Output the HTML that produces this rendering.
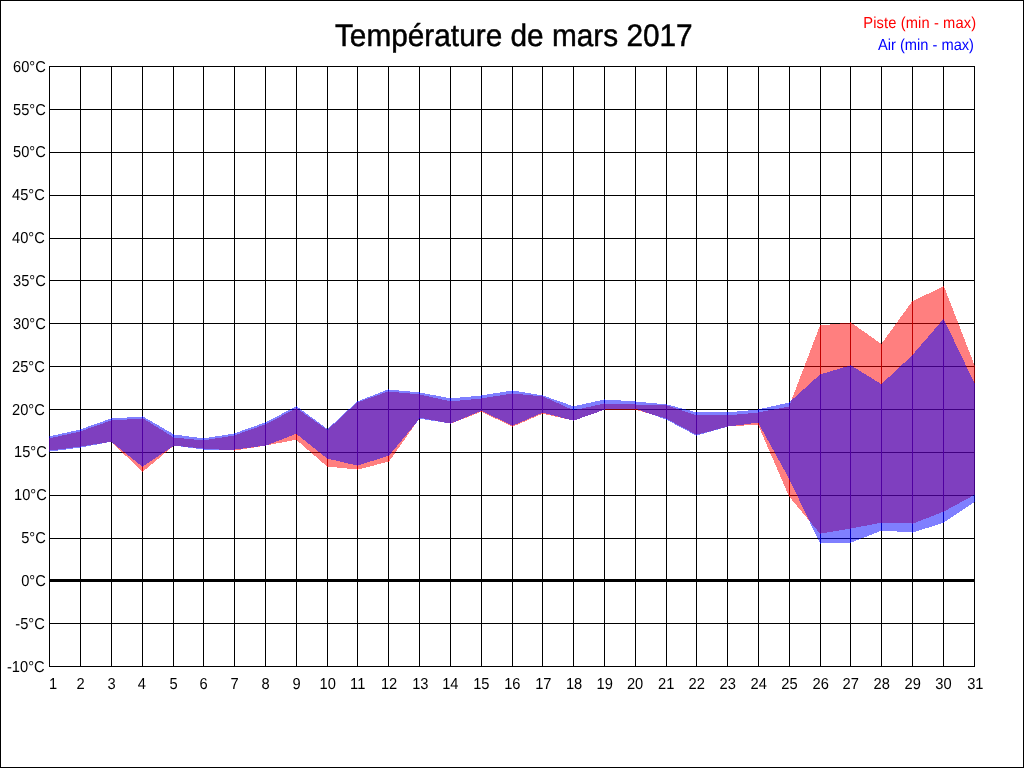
<!DOCTYPE html>
<html><head><meta charset="utf-8"><title>Température de mars 2017</title>
<style>
html,body{margin:0;padding:0;background:#fff;}
body{width:1024px;height:768px;overflow:hidden;}
svg{display:block;font-family:"Liberation Sans",sans-serif;}
</style></head><body>
<svg width="1024" height="768" viewBox="0 0 1024 768">
<rect x="0" y="0" width="1024" height="768" fill="#fff"/>
<g shape-rendering="crispEdges" fill="#000">
<rect x="0" y="0" width="1024" height="1"/><rect x="0" y="767" width="1024" height="1"/><rect x="0" y="0" width="1" height="768"/><rect x="1023" y="0" width="1" height="768"/>
<rect x="49" y="66" width="1" height="601"/><rect x="80" y="66" width="1" height="601"/><rect x="111" y="66" width="1" height="601"/><rect x="142" y="66" width="1" height="601"/><rect x="173" y="66" width="1" height="601"/><rect x="203" y="66" width="1" height="601"/><rect x="234" y="66" width="1" height="601"/><rect x="265" y="66" width="1" height="601"/><rect x="296" y="66" width="1" height="601"/><rect x="327" y="66" width="1" height="601"/><rect x="357" y="66" width="1" height="601"/><rect x="388" y="66" width="1" height="601"/><rect x="419" y="66" width="1" height="601"/><rect x="450" y="66" width="1" height="601"/><rect x="481" y="66" width="1" height="601"/><rect x="512" y="66" width="1" height="601"/><rect x="542" y="66" width="1" height="601"/><rect x="573" y="66" width="1" height="601"/><rect x="604" y="66" width="1" height="601"/><rect x="635" y="66" width="1" height="601"/><rect x="666" y="66" width="1" height="601"/><rect x="696" y="66" width="1" height="601"/><rect x="727" y="66" width="1" height="601"/><rect x="758" y="66" width="1" height="601"/><rect x="789" y="66" width="1" height="601"/><rect x="820" y="66" width="1" height="601"/><rect x="850" y="66" width="1" height="601"/><rect x="881" y="66" width="1" height="601"/><rect x="912" y="66" width="1" height="601"/><rect x="943" y="66" width="1" height="601"/><rect x="974" y="66" width="1" height="601"/>
<rect x="49" y="66" width="926" height="1"/><rect x="49" y="109" width="926" height="1"/><rect x="49" y="152" width="926" height="1"/><rect x="49" y="195" width="926" height="1"/><rect x="49" y="238" width="926" height="1"/><rect x="49" y="280" width="926" height="1"/><rect x="49" y="323" width="926" height="1"/><rect x="49" y="366" width="926" height="1"/><rect x="49" y="409" width="926" height="1"/><rect x="49" y="452" width="926" height="1"/><rect x="49" y="495" width="926" height="1"/><rect x="49" y="538" width="926" height="1"/><rect x="49" y="579" width="926" height="3"/><rect x="49" y="623" width="926" height="1"/><rect x="49" y="666" width="926" height="1"/>
</g>
<g shape-rendering="crispEdges">
<path fill="#ff0000" fill-opacity="0.5" d="M80 431h1v1h-1zM76 432h5v1h-5zM71 433h10v1h-10zM67 434h14v1h-14zM62 435h19v1h-19zM58 436h23v1h-23zM53 437h28v1h-28zM49 438h32v9h-32zM49 447h24v1h-24zM49 448h17v1h-17zM49 449h9v1h-9zM49 450h1v1h-1z"/>
<path fill="#0000ff" fill-opacity="0.5" d="M80 429h1v1h-1zM76 430h5v1h-5zM71 431h10v1h-10zM67 432h14v1h-14zM62 433h19v1h-19zM58 434h23v1h-23zM53 435h28v1h-28zM49 436h32v12h-32zM49 448h24v1h-24zM49 449h17v1h-17zM49 450h9v1h-9zM49 451h1v1h-1z"/>
<path fill="#ff0000" fill-opacity="0.5" d="M111 420h1v1h-1zM108 421h4v1h-4zM105 422h7v1h-7zM103 423h9v1h-9zM100 424h12v1h-12zM97 425h15v1h-15zM94 426h18v1h-18zM91 427h21v1h-21zM88 428h24v1h-24zM86 429h26v1h-26zM83 430h29v1h-29zM80 431h32v11h-32zM80 442h26v1h-26zM80 443h20v1h-20zM80 444h13v1h-13zM80 445h7v1h-7zM80 446h1v1h-1z"/>
<path fill="#0000ff" fill-opacity="0.5" d="M111 418h1v1h-1zM108 419h4v1h-4zM105 420h7v1h-7zM103 421h9v1h-9zM100 422h12v1h-12zM97 423h15v1h-15zM94 424h18v1h-18zM91 425h21v1h-21zM88 426h24v1h-24zM86 427h26v1h-26zM83 428h29v1h-29zM80 429h32v13h-32zM80 442h27v1h-27zM80 443h22v1h-22zM80 444h17v1h-17zM80 445h11v1h-11zM80 446h6v1h-6zM80 447h1v1h-1z"/>
<path fill="#ff0000" fill-opacity="0.5" d="M142 418h1v1h-1zM127 419h16v1h-16zM111 420h32v22h-32zM112 442h31v1h-31zM113 443h30v1h-30zM114 444h29v1h-29zM115 445h28v1h-28zM116 446h27v1h-27zM117 447h26v1h-26zM118 448h25v1h-25zM119 449h24v1h-24zM120 450h23v1h-23zM121 451h22v1h-22zM122 452h21v1h-21zM123 453h20v1h-20zM124 454h19v1h-19zM125 455h18v1h-18zM127 456h16v1h-16zM128 457h15v1h-15zM129 458h14v1h-14zM130 459h13v1h-13zM131 460h12v1h-12zM132 461h11v1h-11zM133 462h10v1h-10zM134 463h9v1h-9zM135 464h8v1h-8zM136 465h7v1h-7zM137 466h6v1h-6zM138 467h5v1h-5zM139 468h4v1h-4zM140 469h3v1h-3zM141 470h2v1h-2zM142 471h1v1h-1z"/>
<path fill="#0000ff" fill-opacity="0.5" d="M142 416h1v1h-1zM127 417h16v1h-16zM111 418h32v24h-32zM112 442h31v1h-31zM113 443h30v1h-30zM115 444h28v1h-28zM116 445h27v1h-27zM117 446h26v1h-26zM118 447h25v1h-25zM120 448h23v1h-23zM121 449h22v1h-22zM122 450h21v1h-21zM123 451h20v1h-20zM125 452h18v1h-18zM126 453h17v1h-17zM127 454h16v1h-16zM128 455h15v1h-15zM130 456h13v1h-13zM131 457h12v1h-12zM132 458h11v1h-11zM133 459h10v1h-10zM135 460h8v1h-8zM136 461h7v1h-7zM137 462h6v1h-6zM138 463h5v1h-5zM140 464h3v1h-3zM141 465h2v1h-2zM142 466h1v1h-1z"/>
<path fill="#ff0000" fill-opacity="0.5" d="M142 418h1v1h-1zM142 419h3v1h-3zM142 420h4v1h-4zM142 421h6v1h-6zM142 422h8v1h-8zM142 423h9v1h-9zM142 424h11v1h-11zM142 425h12v1h-12zM142 426h14v1h-14zM142 427h16v1h-16zM142 428h17v1h-17zM142 429h19v1h-19zM142 430h21v1h-21zM142 431h22v1h-22zM142 432h24v1h-24zM142 433h25v1h-25zM142 434h27v1h-27zM142 435h29v1h-29zM142 436h30v1h-30zM142 437h32v9h-32zM142 446h31v1h-31zM142 447h30v1h-30zM142 448h28v1h-28zM142 449h27v1h-27zM142 450h26v1h-26zM142 451h25v1h-25zM142 452h24v1h-24zM142 453h22v1h-22zM142 454h21v1h-21zM142 455h20v1h-20zM142 456h19v1h-19zM142 457h18v1h-18zM142 458h17v1h-17zM142 459h15v1h-15zM142 460h14v1h-14zM142 461h13v1h-13zM142 462h12v1h-12zM142 463h11v1h-11zM142 464h9v1h-9zM142 465h8v1h-8zM142 466h7v1h-7zM142 467h6v1h-6zM142 468h5v1h-5zM142 469h3v1h-3zM142 470h2v1h-2zM142 471h1v1h-1z"/>
<path fill="#0000ff" fill-opacity="0.5" d="M142 416h1v1h-1zM142 417h3v1h-3zM142 418h4v1h-4zM142 419h6v1h-6zM142 420h8v1h-8zM142 421h10v1h-10zM142 422h11v1h-11zM142 423h13v1h-13zM142 424h15v1h-15zM142 425h17v1h-17zM142 426h18v1h-18zM142 427h20v1h-20zM142 428h22v1h-22zM142 429h23v1h-23zM142 430h25v1h-25zM142 431h27v1h-27zM142 432h29v1h-29zM142 433h30v1h-30zM142 434h32v12h-32zM142 446h31v1h-31zM142 447h29v1h-29zM142 448h28v1h-28zM142 449h26v1h-26zM142 450h25v1h-25zM142 451h23v1h-23zM142 452h22v1h-22zM142 453h20v1h-20zM142 454h19v1h-19zM142 455h17v1h-17zM142 456h16v1h-16zM142 457h14v1h-14zM142 458h13v1h-13zM142 459h11v1h-11zM142 460h10v1h-10zM142 461h8v1h-8zM142 462h7v1h-7zM142 463h5v1h-5zM142 464h4v1h-4zM142 465h2v1h-2zM142 466h1v1h-1z"/>
<path fill="#ff0000" fill-opacity="0.5" d="M173 437h1v1h-1zM173 438h11v1h-11zM173 439h21v1h-21zM173 440h31v6h-31zM183 446h21v1h-21zM193 447h11v1h-11zM203 448h1v1h-1z"/>
<path fill="#0000ff" fill-opacity="0.5" d="M173 434h1v1h-1zM173 435h9v1h-9zM173 436h16v1h-16zM173 437h24v1h-24zM173 438h31v8h-31zM181 446h23v1h-23zM188 447h16v1h-16zM196 448h8v1h-8zM203 449h1v1h-1z"/>
<path fill="#ff0000" fill-opacity="0.5" d="M234 435h1v1h-1zM228 436h7v1h-7zM222 437h13v1h-13zM215 438h20v1h-20zM209 439h26v1h-26zM203 440h32v9h-32zM219 449h16v1h-16zM234 450h1v1h-1z"/>
<path fill="#0000ff" fill-opacity="0.5" d="M234 433h1v1h-1zM228 434h7v1h-7zM222 435h13v1h-13zM215 436h20v1h-20zM209 437h26v1h-26zM203 438h32v12h-32z"/>
<path fill="#ff0000" fill-opacity="0.5" d="M265 424h1v1h-1zM262 425h4v1h-4zM259 426h7v1h-7zM257 427h9v1h-9zM254 428h12v1h-12zM251 429h15v1h-15zM248 430h18v1h-18zM245 431h21v1h-21zM242 432h24v1h-24zM240 433h26v1h-26zM237 434h29v1h-29zM234 435h32v11h-32zM234 446h26v1h-26zM234 447h20v1h-20zM234 448h13v1h-13zM234 449h7v1h-7zM234 450h1v1h-1z"/>
<path fill="#0000ff" fill-opacity="0.5" d="M265 422h1v1h-1zM262 423h4v1h-4zM259 424h7v1h-7zM257 425h9v1h-9zM254 426h12v1h-12zM251 427h15v1h-15zM248 428h18v1h-18zM245 429h21v1h-21zM242 430h24v1h-24zM240 431h26v1h-26zM237 432h29v1h-29zM234 433h32v13h-32zM234 446h24v1h-24zM234 447h17v1h-17zM234 448h9v1h-9zM234 449h1v1h-1z"/>
<path fill="#ff0000" fill-opacity="0.5" d="M296 408h1v1h-1zM294 409h3v1h-3zM292 410h5v1h-5zM290 411h7v1h-7zM288 412h9v1h-9zM286 413h11v1h-11zM284 414h13v1h-13zM282 415h15v1h-15zM281 416h16v1h-16zM279 417h18v1h-18zM277 418h20v1h-20zM275 419h22v1h-22zM273 420h24v1h-24zM271 421h26v1h-26zM269 422h28v1h-28zM267 423h30v1h-30zM265 424h32v16h-32zM265 440h27v1h-27zM265 441h22v1h-22zM265 442h17v1h-17zM265 443h11v1h-11zM265 444h6v1h-6zM265 445h1v1h-1z"/>
<path fill="#0000ff" fill-opacity="0.5" d="M296 406h1v1h-1zM294 407h3v1h-3zM292 408h5v1h-5zM290 409h7v1h-7zM288 410h9v1h-9zM286 411h11v1h-11zM284 412h13v1h-13zM282 413h15v1h-15zM281 414h16v1h-16zM279 415h18v1h-18zM277 416h20v1h-20zM275 417h22v1h-22zM273 418h24v1h-24zM271 419h26v1h-26zM269 420h28v1h-28zM267 421h30v1h-30zM265 422h32v12h-32zM265 434h29v1h-29zM265 435h27v1h-27zM265 436h24v1h-24zM265 437h22v1h-22zM265 438h19v1h-19zM265 439h17v1h-17zM265 440h14v1h-14zM265 441h11v1h-11zM265 442h9v1h-9zM265 443h6v1h-6zM265 444h4v1h-4zM265 445h1v1h-1z"/>
<path fill="#ff0000" fill-opacity="0.5" d="M296 408h1v1h-1zM296 409h2v1h-2zM296 410h4v1h-4zM296 411h5v1h-5zM296 412h7v1h-7zM296 413h8v1h-8zM296 414h9v1h-9zM296 415h11v1h-11zM296 416h12v1h-12zM296 417h14v1h-14zM296 418h15v1h-15zM296 419h17v1h-17zM296 420h18v1h-18zM296 421h19v1h-19zM296 422h21v1h-21zM296 423h22v1h-22zM296 424h24v1h-24zM296 425h25v1h-25zM296 426h26v1h-26zM296 427h28v1h-28zM296 428h29v1h-29zM296 429h31v1h-31zM296 430h32v10h-32zM297 440h31v1h-31zM298 441h30v1h-30zM299 442h29v1h-29zM301 443h27v1h-27zM302 444h26v1h-26zM303 445h25v1h-25zM304 446h24v1h-24zM305 447h23v1h-23zM306 448h22v1h-22zM307 449h21v1h-21zM309 450h19v1h-19zM310 451h18v1h-18zM311 452h17v1h-17zM312 453h16v1h-16zM313 454h15v1h-15zM314 455h14v1h-14zM316 456h12v1h-12zM317 457h11v1h-11zM318 458h10v1h-10zM319 459h9v1h-9zM320 460h8v1h-8zM321 461h7v1h-7zM322 462h6v1h-6zM324 463h4v1h-4zM325 464h3v1h-3zM326 465h2v1h-2zM327 466h1v1h-1z"/>
<path fill="#0000ff" fill-opacity="0.5" d="M296 406h1v1h-1zM296 407h2v1h-2zM296 408h4v1h-4zM296 409h5v1h-5zM296 410h6v1h-6zM296 411h8v1h-8zM296 412h9v1h-9zM296 413h10v1h-10zM296 414h12v1h-12zM296 415h13v1h-13zM296 416h14v1h-14zM296 417h16v1h-16zM296 418h17v1h-17zM296 419h19v1h-19zM296 420h20v1h-20zM296 421h21v1h-21zM296 422h23v1h-23zM296 423h24v1h-24zM296 424h25v1h-25zM296 425h27v1h-27zM296 426h28v1h-28zM296 427h29v1h-29zM296 428h31v1h-31zM296 429h32v5h-32zM297 434h31v1h-31zM298 435h30v1h-30zM300 436h28v1h-28zM301 437h27v1h-27zM302 438h26v1h-26zM303 439h25v1h-25zM305 440h23v1h-23zM306 441h22v1h-22zM307 442h21v1h-21zM308 443h20v1h-20zM310 444h18v1h-18zM311 445h17v1h-17zM312 446h16v1h-16zM313 447h15v1h-15zM315 448h13v1h-13zM316 449h12v1h-12zM317 450h11v1h-11zM318 451h10v1h-10zM320 452h8v1h-8zM321 453h7v1h-7zM322 454h6v1h-6zM323 455h5v1h-5zM325 456h3v1h-3zM326 457h2v1h-2zM327 458h1v1h-1z"/>
<path fill="#ff0000" fill-opacity="0.5" d="M357 402h1v1h-1zM356 403h2v1h-2zM355 404h3v1h-3zM354 405h4v1h-4zM353 406h5v1h-5zM352 407h6v1h-6zM351 408h7v1h-7zM350 409h8v1h-8zM348 410h10v1h-10zM347 411h11v1h-11zM346 412h12v1h-12zM345 413h13v1h-13zM344 414h14v1h-14zM343 415h15v1h-15zM342 416h16v1h-16zM341 417h17v1h-17zM340 418h18v1h-18zM339 419h19v1h-19zM338 420h20v1h-20zM337 421h21v1h-21zM336 422h22v1h-22zM335 423h23v1h-23zM333 424h25v1h-25zM332 425h26v1h-26zM331 426h27v1h-27zM330 427h28v1h-28zM329 428h29v1h-29zM328 429h30v1h-30zM327 430h31v37h-31zM337 467h21v1h-21zM347 468h11v1h-11zM357 469h1v1h-1z"/>
<path fill="#0000ff" fill-opacity="0.5" d="M357 401h1v1h-1zM356 402h2v1h-2zM355 403h3v1h-3zM354 404h4v1h-4zM353 405h5v1h-5zM352 406h6v1h-6zM351 407h7v1h-7zM350 408h8v1h-8zM348 409h10v1h-10zM347 410h11v1h-11zM346 411h12v1h-12zM345 412h13v1h-13zM344 413h14v1h-14zM343 414h15v1h-15zM342 415h16v1h-16zM341 416h17v1h-17zM340 417h18v1h-18zM339 418h19v1h-19zM338 419h20v1h-20zM337 420h21v1h-21zM336 421h22v1h-22zM335 422h23v1h-23zM333 423h25v1h-25zM332 424h26v1h-26zM331 425h27v1h-27zM330 426h28v1h-28zM329 427h29v1h-29zM328 428h30v1h-30zM327 429h31v30h-31zM331 459h27v1h-27zM336 460h22v1h-22zM340 461h18v1h-18zM344 462h14v1h-14zM348 463h10v1h-10zM353 464h5v1h-5zM357 465h1v1h-1z"/>
<path fill="#ff0000" fill-opacity="0.5" d="M388 391h1v1h-1zM385 392h4v1h-4zM382 393h7v1h-7zM380 394h9v1h-9zM377 395h12v1h-12zM374 396h15v1h-15zM371 397h18v1h-18zM368 398h21v1h-21zM365 399h24v1h-24zM363 400h26v1h-26zM360 401h29v1h-29zM357 402h32v60h-32zM357 462h28v1h-28zM357 463h24v1h-24zM357 464h20v1h-20zM357 465h17v1h-17zM357 466h13v1h-13zM357 467h9v1h-9zM357 468h5v1h-5zM357 469h1v1h-1z"/>
<path fill="#0000ff" fill-opacity="0.5" d="M388 389h1v1h-1zM385 390h4v1h-4zM383 391h6v1h-6zM380 392h9v1h-9zM378 393h11v1h-11zM375 394h14v1h-14zM373 395h16v1h-16zM370 396h19v1h-19zM367 397h22v1h-22zM365 398h24v1h-24zM362 399h27v1h-27zM360 400h29v1h-29zM357 401h32v55h-32zM357 456h29v1h-29zM357 457h26v1h-26zM357 458h23v1h-23zM357 459h20v1h-20zM357 460h17v1h-17zM357 461h13v1h-13zM357 462h10v1h-10zM357 463h7v1h-7zM357 464h4v1h-4zM357 465h1v1h-1z"/>
<path fill="#ff0000" fill-opacity="0.5" d="M388 391h1v1h-1zM388 392h11v1h-11zM388 393h22v1h-22zM388 394h32v24h-32zM388 418h31v2h-31zM388 420h30v1h-30zM388 421h29v1h-29zM388 422h28v2h-28zM388 424h27v1h-27zM388 425h26v2h-26zM388 427h25v1h-25zM388 428h24v2h-24zM388 430h23v1h-23zM388 431h22v1h-22zM388 432h21v2h-21zM388 434h20v1h-20zM388 435h19v2h-19zM388 437h18v1h-18zM388 438h17v2h-17zM388 440h16v1h-16zM388 441h15v1h-15zM388 442h14v2h-14zM388 444h13v1h-13zM388 445h12v2h-12zM388 447h11v1h-11zM388 448h10v1h-10zM388 449h9v2h-9zM388 451h8v1h-8zM388 452h7v2h-7zM388 454h6v1h-6zM388 455h5v2h-5zM388 457h4v1h-4zM388 458h3v1h-3zM388 459h2v2h-2zM388 461h1v1h-1z"/>
<path fill="#0000ff" fill-opacity="0.5" d="M388 389h1v1h-1zM388 390h11v1h-11zM388 391h22v1h-22zM388 392h32v27h-32zM388 419h31v1h-31zM388 420h30v1h-30zM388 421h29v2h-29zM388 423h28v1h-28zM388 424h27v1h-27zM388 425h26v1h-26zM388 426h25v1h-25zM388 427h24v2h-24zM388 429h23v1h-23zM388 430h22v1h-22zM388 431h21v1h-21zM388 432h20v1h-20zM388 433h19v2h-19zM388 435h18v1h-18zM388 436h17v1h-17zM388 437h16v1h-16zM388 438h15v1h-15zM388 439h14v2h-14zM388 441h13v1h-13zM388 442h12v1h-12zM388 443h11v1h-11zM388 444h10v1h-10zM388 445h9v2h-9zM388 447h8v1h-8zM388 448h7v1h-7zM388 449h6v1h-6zM388 450h5v1h-5zM388 451h4v2h-4zM388 453h3v1h-3zM388 454h2v1h-2zM388 455h1v1h-1z"/>
<path fill="#ff0000" fill-opacity="0.5" d="M419 394h1v1h-1zM419 395h5v1h-5zM419 396h10v1h-10zM419 397h14v1h-14zM419 398h19v1h-19zM419 399h23v1h-23zM419 400h28v1h-28zM419 401h32v17h-32zM424 418h27v1h-27zM429 419h22v1h-22zM435 420h16v1h-16zM440 421h11v1h-11zM445 422h6v1h-6zM450 423h1v1h-1z"/>
<path fill="#0000ff" fill-opacity="0.5" d="M419 392h1v1h-1zM419 393h6v1h-6zM419 394h11v1h-11zM419 395h17v1h-17zM419 396h22v1h-22zM419 397h27v1h-27zM419 398h32v21h-32zM425 419h26v1h-26zM431 420h20v1h-20zM438 421h13v1h-13zM444 422h7v1h-7zM450 423h1v1h-1z"/>
<path fill="#ff0000" fill-opacity="0.5" d="M481 398h1v1h-1zM471 399h11v1h-11zM460 400h22v1h-22zM450 401h32v11h-32zM450 412h29v1h-29zM450 413h27v1h-27zM450 414h24v1h-24zM450 415h22v1h-22zM450 416h19v1h-19zM450 417h17v1h-17zM450 418h14v1h-14zM450 419h11v1h-11zM450 420h9v1h-9zM450 421h6v1h-6zM450 422h4v1h-4zM450 423h1v1h-1z"/>
<path fill="#0000ff" fill-opacity="0.5" d="M481 395h1v1h-1zM471 396h11v1h-11zM460 397h22v1h-22zM450 398h32v13h-32zM450 411h30v1h-30zM450 412h27v1h-27zM450 413h25v1h-25zM450 414h22v1h-22zM450 415h20v1h-20zM450 416h18v1h-18zM450 417h15v1h-15zM450 418h13v1h-13zM450 419h11v1h-11zM450 420h8v1h-8zM450 421h6v1h-6zM450 422h3v1h-3zM450 423h1v1h-1z"/>
<path fill="#ff0000" fill-opacity="0.5" d="M512 393h1v1h-1zM506 394h7v1h-7zM500 395h13v1h-13zM493 396h20v1h-20zM487 397h26v1h-26zM481 398h32v14h-32zM483 412h30v1h-30zM485 413h28v1h-28zM487 414h26v1h-26zM489 415h24v1h-24zM491 416h22v1h-22zM493 417h20v1h-20zM495 418h18v1h-18zM498 419h15v1h-15zM500 420h13v1h-13zM502 421h11v1h-11zM504 422h9v1h-9zM506 423h7v1h-7zM508 424h5v1h-5zM510 425h3v1h-3zM512 426h1v1h-1z"/>
<path fill="#0000ff" fill-opacity="0.5" d="M512 390h1v1h-1zM506 391h7v1h-7zM500 392h13v1h-13zM493 393h20v1h-20zM487 394h26v1h-26zM481 395h32v16h-32zM483 411h30v1h-30zM485 412h28v1h-28zM487 413h26v1h-26zM489 414h24v1h-24zM491 415h22v1h-22zM493 416h20v1h-20zM495 417h18v1h-18zM498 418h15v1h-15zM500 419h13v1h-13zM502 420h11v1h-11zM504 421h9v1h-9zM506 422h7v1h-7zM508 423h5v1h-5zM510 424h3v1h-3zM512 425h1v1h-1z"/>
<path fill="#ff0000" fill-opacity="0.5" d="M512 393h1v1h-1zM512 394h11v1h-11zM512 395h21v1h-21zM512 396h31v18h-31zM512 414h29v1h-29zM512 415h26v1h-26zM512 416h24v1h-24zM512 417h22v1h-22zM512 418h19v1h-19zM512 419h17v1h-17zM512 420h15v1h-15zM512 421h13v1h-13zM512 422h10v1h-10zM512 423h8v1h-8zM512 424h6v1h-6zM512 425h3v1h-3zM512 426h1v1h-1z"/>
<path fill="#0000ff" fill-opacity="0.5" d="M512 390h1v1h-1zM512 391h7v1h-7zM512 392h13v1h-13zM512 393h19v1h-19zM512 394h25v1h-25zM512 395h31v18h-31zM512 413h29v1h-29zM512 414h26v1h-26zM512 415h24v1h-24zM512 416h22v1h-22zM512 417h19v1h-19zM512 418h17v1h-17zM512 419h15v1h-15zM512 420h13v1h-13zM512 421h10v1h-10zM512 422h8v1h-8zM512 423h6v1h-6zM512 424h3v1h-3zM512 425h1v1h-1z"/>
<path fill="#ff0000" fill-opacity="0.5" d="M542 396h1v1h-1zM542 397h3v1h-3zM542 398h5v1h-5zM542 399h8v1h-8zM542 400h10v1h-10zM542 401h12v1h-12zM542 402h14v1h-14zM542 403h17v1h-17zM542 404h19v1h-19zM542 405h21v1h-21zM542 406h23v1h-23zM542 407h25v1h-25zM542 408h28v1h-28zM542 409h30v1h-30zM542 410h32v4h-32zM546 414h28v1h-28zM551 415h23v1h-23zM555 416h19v1h-19zM560 417h14v1h-14zM564 418h10v1h-10zM569 419h5v1h-5zM573 420h1v1h-1z"/>
<path fill="#0000ff" fill-opacity="0.5" d="M542 395h1v1h-1zM542 396h4v1h-4zM542 397h7v1h-7zM542 398h9v1h-9zM542 399h12v1h-12zM542 400h15v1h-15zM542 401h18v1h-18zM542 402h21v1h-21zM542 403h24v1h-24zM542 404h26v1h-26zM542 405h29v1h-29zM542 406h32v7h-32zM546 413h28v1h-28zM550 414h24v1h-24zM554 415h20v1h-20zM558 416h16v1h-16zM561 417h13v1h-13zM565 418h9v1h-9zM569 419h5v1h-5zM573 420h1v1h-1z"/>
<path fill="#ff0000" fill-opacity="0.5" d="M604 403h1v1h-1zM600 404h5v1h-5zM595 405h10v1h-10zM591 406h14v1h-14zM586 407h19v1h-19zM582 408h23v1h-23zM577 409h28v1h-28zM573 410h29v1h-29zM573 411h26v1h-26zM573 412h24v1h-24zM573 413h21v1h-21zM573 414h18v1h-18zM573 415h15v1h-15zM573 416h12v1h-12zM573 417h9v1h-9zM573 418h7v1h-7zM573 419h4v1h-4zM573 420h1v1h-1z"/>
<path fill="#0000ff" fill-opacity="0.5" d="M604 399h1v1h-1zM600 400h5v1h-5zM595 401h10v1h-10zM591 402h14v1h-14zM586 403h19v1h-19zM582 404h23v1h-23zM577 405h28v1h-28zM573 406h32v4h-32zM573 410h29v1h-29zM573 411h26v1h-26zM573 412h24v1h-24zM573 413h21v1h-21zM573 414h18v1h-18zM573 415h15v1h-15zM573 416h12v1h-12zM573 417h9v1h-9zM573 418h7v1h-7zM573 419h4v1h-4zM573 420h1v1h-1z"/>
<path fill="#ff0000" fill-opacity="0.5" d="M604 403h1v1h-1zM604 404h32v6h-32z"/>
<path fill="#0000ff" fill-opacity="0.5" d="M604 399h1v1h-1zM604 400h17v1h-17zM604 401h32v8h-32zM604 409h1v1h-1z"/>
<path fill="#ff0000" fill-opacity="0.5" d="M635 404h1v1h-1zM635 405h32v5h-32zM638 410h29v1h-29zM642 411h25v1h-25zM645 412h22v1h-22zM649 413h18v1h-18zM652 414h15v1h-15zM656 415h11v1h-11zM659 416h8v1h-8zM663 417h4v1h-4zM666 418h1v1h-1z"/>
<path fill="#0000ff" fill-opacity="0.5" d="M635 401h1v1h-1zM635 402h11v1h-11zM635 403h22v1h-22zM635 404h32v5h-32zM638 409h29v1h-29zM641 410h26v1h-26zM643 411h24v1h-24zM646 412h21v1h-21zM649 413h18v1h-18zM652 414h15v1h-15zM655 415h12v1h-12zM658 416h9v1h-9zM660 417h7v1h-7zM663 418h4v1h-4zM666 419h1v1h-1z"/>
<path fill="#ff0000" fill-opacity="0.5" d="M666 405h1v1h-1zM666 406h4v1h-4zM666 407h7v1h-7zM666 408h10v1h-10zM666 409h13v1h-13zM666 410h16v1h-16zM666 411h19v1h-19zM666 412h22v1h-22zM666 413h25v1h-25zM666 414h28v1h-28zM666 415h31v4h-31zM668 419h29v1h-29zM670 420h27v1h-27zM672 421h25v1h-25zM674 422h23v1h-23zM675 423h22v1h-22zM677 424h20v1h-20zM679 425h18v1h-18zM681 426h16v1h-16zM683 427h14v1h-14zM685 428h12v1h-12zM687 429h10v1h-10zM689 430h8v1h-8zM690 431h7v1h-7zM692 432h5v1h-5zM694 433h3v1h-3zM696 434h1v1h-1z"/>
<path fill="#0000ff" fill-opacity="0.5" d="M666 404h1v1h-1zM666 405h5v1h-5zM666 406h9v1h-9zM666 407h12v1h-12zM666 408h16v1h-16zM666 409h20v1h-20zM666 410h24v1h-24zM666 411h27v1h-27zM666 412h31v8h-31zM668 420h29v1h-29zM670 421h27v1h-27zM672 422h25v1h-25zM674 423h23v1h-23zM675 424h22v1h-22zM677 425h20v1h-20zM679 426h18v1h-18zM681 427h16v1h-16zM683 428h14v1h-14zM685 429h12v1h-12zM687 430h10v1h-10zM689 431h8v1h-8zM690 432h7v1h-7zM692 433h5v1h-5zM694 434h3v1h-3zM696 435h1v1h-1z"/>
<path fill="#ff0000" fill-opacity="0.5" d="M696 415h32v12h-32zM696 427h28v1h-28zM696 428h24v1h-24zM696 429h20v1h-20zM696 430h17v1h-17zM696 431h13v1h-13zM696 432h9v1h-9zM696 433h5v1h-5zM696 434h1v1h-1z"/>
<path fill="#0000ff" fill-opacity="0.5" d="M696 412h32v15h-32zM696 427h29v1h-29zM696 428h25v1h-25zM696 429h22v1h-22zM696 430h18v1h-18zM696 431h15v1h-15zM696 432h11v1h-11zM696 433h8v1h-8zM696 434h4v1h-4zM696 435h1v1h-1z"/>
<path fill="#ff0000" fill-opacity="0.5" d="M758 412h1v1h-1zM748 413h11v1h-11zM737 414h22v1h-22zM727 415h32v10h-32zM727 425h17v1h-17zM727 426h1v1h-1z"/>
<path fill="#0000ff" fill-opacity="0.5" d="M758 409h1v1h-1zM748 410h11v1h-11zM737 411h22v1h-22zM727 412h32v11h-32zM727 423h24v1h-24zM727 424h17v1h-17zM727 425h9v1h-9zM727 426h1v1h-1z"/>
<path fill="#ff0000" fill-opacity="0.5" d="M789 406h1v1h-1zM784 407h6v1h-6zM779 408h11v1h-11zM774 409h16v1h-16zM768 410h22v1h-22zM763 411h27v1h-27zM758 412h32v14h-32zM759 426h31v2h-31zM760 428h30v2h-30zM761 430h29v3h-29zM762 433h28v2h-28zM763 435h27v2h-27zM764 437h26v3h-26zM765 440h25v2h-25zM766 442h24v2h-24zM767 444h23v3h-23zM768 447h22v2h-22zM769 449h21v2h-21zM770 451h20v3h-20zM771 454h19v2h-19zM772 456h18v2h-18zM773 458h17v2h-17zM774 460h16v3h-16zM775 463h15v2h-15zM776 465h14v2h-14zM777 467h13v3h-13zM778 470h12v2h-12zM779 472h11v2h-11zM780 474h10v3h-10zM781 477h9v2h-9zM782 479h8v2h-8zM783 481h7v3h-7zM784 484h6v2h-6zM785 486h5v2h-5zM786 488h4v3h-4zM787 491h3v2h-3zM788 493h2v2h-2zM789 495h1v2h-1z"/>
<path fill="#0000ff" fill-opacity="0.5" d="M789 402h1v1h-1zM785 403h5v1h-5zM780 404h10v1h-10zM776 405h14v1h-14zM771 406h19v1h-19zM767 407h23v1h-23zM762 408h28v1h-28zM758 409h32v14h-32zM759 423h31v2h-31zM760 425h30v2h-30zM761 427h29v2h-29zM762 429h28v2h-28zM763 431h27v1h-27zM764 432h26v2h-26zM765 434h25v2h-25zM766 436h24v2h-24zM767 438h23v2h-23zM768 440h22v1h-22zM769 441h21v2h-21zM770 443h20v2h-20zM771 445h19v2h-19zM772 447h18v2h-18zM773 449h17v1h-17zM774 450h16v2h-16zM775 452h15v2h-15zM776 454h14v2h-14zM777 456h13v2h-13zM778 458h12v2h-12zM779 460h11v1h-11zM780 461h10v2h-10zM781 463h9v2h-9zM782 465h8v2h-8zM783 467h7v2h-7zM784 469h6v1h-6zM785 470h5v2h-5zM786 472h4v2h-4zM787 474h3v2h-3zM788 476h2v2h-2zM789 478h1v1h-1z"/>
<path fill="#ff0000" fill-opacity="0.5" d="M820 325h1v2h-1zM819 327h2v2h-2zM818 329h3v3h-3zM817 332h4v3h-4zM816 335h5v2h-5zM815 337h6v3h-6zM814 340h7v2h-7zM813 342h8v3h-8zM812 345h9v3h-9zM811 348h10v2h-10zM810 350h11v3h-11zM809 353h12v3h-12zM808 356h13v2h-13zM807 358h14v3h-14zM806 361h15v2h-15zM805 363h16v3h-16zM804 366h17v3h-17zM803 369h18v2h-18zM802 371h19v3h-19zM801 374h20v2h-20zM800 376h21v3h-21zM799 379h22v3h-22zM798 382h23v2h-23zM797 384h24v3h-24zM796 387h25v3h-25zM795 390h26v2h-26zM794 392h27v3h-27zM793 395h28v2h-28zM792 397h29v3h-29zM791 400h30v3h-30zM790 403h31v2h-31zM789 405h32v92h-32zM790 497h31v1h-31zM791 498h30v1h-30zM792 499h29v2h-29zM793 501h28v1h-28zM794 502h27v1h-27zM795 503h26v1h-26zM796 504h25v1h-25zM797 505h24v2h-24zM798 507h23v1h-23zM799 508h22v1h-22zM800 509h21v1h-21zM801 510h20v1h-20zM802 511h19v2h-19zM803 513h18v1h-18zM804 514h17v1h-17zM805 515h16v1h-16zM806 516h15v1h-15zM807 517h14v2h-14zM808 519h13v1h-13zM809 520h12v1h-12zM810 521h11v1h-11zM811 522h10v1h-10zM812 523h9v2h-9zM813 525h8v1h-8zM814 526h7v1h-7zM815 527h6v1h-6zM816 528h5v1h-5zM817 529h4v2h-4zM818 531h3v1h-3zM819 532h2v1h-2zM820 533h1v1h-1z"/>
<path fill="#0000ff" fill-opacity="0.5" d="M820 374h1v1h-1zM819 375h2v1h-2zM818 376h3v1h-3zM817 377h4v1h-4zM816 378h5v1h-5zM814 379h7v1h-7zM813 380h8v1h-8zM812 381h9v1h-9zM811 382h10v1h-10zM810 383h11v1h-11zM809 384h12v1h-12zM808 385h13v1h-13zM807 386h14v1h-14zM806 387h15v1h-15zM805 388h16v1h-16zM803 389h18v1h-18zM802 390h19v1h-19zM801 391h20v1h-20zM800 392h21v1h-21zM799 393h22v1h-22zM798 394h23v1h-23zM797 395h24v1h-24zM796 396h25v1h-25zM795 397h26v1h-26zM793 398h28v1h-28zM792 399h29v1h-29zM791 400h30v1h-30zM790 401h31v1h-31zM789 402h32v78h-32zM790 480h31v2h-31zM791 482h30v2h-30zM792 484h29v2h-29zM793 486h28v2h-28zM794 488h27v2h-27zM795 490h26v2h-26zM796 492h25v2h-25zM797 494h24v2h-24zM798 496h23v2h-23zM799 498h22v3h-22zM800 501h21v2h-21zM801 503h20v2h-20zM802 505h19v2h-19zM803 507h18v2h-18zM804 509h17v2h-17zM805 511h16v2h-16zM806 513h15v2h-15zM807 515h14v2h-14zM808 517h13v2h-13zM809 519h12v2h-12zM810 521h11v3h-11zM811 524h10v2h-10zM812 526h9v2h-9zM813 528h8v2h-8zM814 530h7v2h-7zM815 532h6v2h-6zM816 534h5v2h-5zM817 536h4v2h-4zM818 538h3v2h-3zM819 540h2v2h-2zM820 542h1v2h-1z"/>
<path fill="#ff0000" fill-opacity="0.5" d="M850 322h1v1h-1zM840 323h11v1h-11zM830 324h21v1h-21zM820 325h31v204h-31zM820 529h25v1h-25zM820 530h19v1h-19zM820 531h13v1h-13zM820 532h7v1h-7zM820 533h1v1h-1z"/>
<path fill="#0000ff" fill-opacity="0.5" d="M850 365h1v1h-1zM847 366h4v1h-4zM843 367h8v1h-8zM840 368h11v1h-11zM837 369h14v1h-14zM833 370h18v1h-18zM830 371h21v1h-21zM827 372h24v1h-24zM823 373h28v1h-28zM820 374h31v169h-31zM820 543h1v1h-1z"/>
<path fill="#ff0000" fill-opacity="0.5" d="M850 322h1v1h-1zM850 323h2v1h-2zM850 324h4v1h-4zM850 325h5v1h-5zM850 326h7v1h-7zM850 327h8v1h-8zM850 328h9v1h-9zM850 329h11v1h-11zM850 330h12v1h-12zM850 331h14v1h-14zM850 332h15v1h-15zM850 333h17v1h-17zM850 334h18v1h-18zM850 335h19v1h-19zM850 336h21v1h-21zM850 337h22v1h-22zM850 338h24v1h-24zM850 339h25v1h-25zM850 340h26v1h-26zM850 341h28v1h-28zM850 342h29v1h-29zM850 343h31v1h-31zM850 344h32v179h-32zM850 523h27v1h-27zM850 524h22v1h-22zM850 525h17v1h-17zM850 526h11v1h-11zM850 527h6v1h-6zM850 528h1v1h-1z"/>
<path fill="#0000ff" fill-opacity="0.5" d="M850 365h1v1h-1zM850 366h3v1h-3zM850 367h4v1h-4zM850 368h6v1h-6zM850 369h8v1h-8zM850 370h9v1h-9zM850 371h11v1h-11zM850 372h12v1h-12zM850 373h14v1h-14zM850 374h16v1h-16zM850 375h17v1h-17zM850 376h19v1h-19zM850 377h21v1h-21zM850 378h22v1h-22zM850 379h24v1h-24zM850 380h25v1h-25zM850 381h27v1h-27zM850 382h29v1h-29zM850 383h30v1h-30zM850 384h32v147h-32zM850 531h29v1h-29zM850 532h27v1h-27zM850 533h24v1h-24zM850 534h22v1h-22zM850 535h19v1h-19zM850 536h17v1h-17zM850 537h14v1h-14zM850 538h11v1h-11zM850 539h9v1h-9zM850 540h6v1h-6zM850 541h4v1h-4zM850 542h1v1h-1z"/>
<path fill="#ff0000" fill-opacity="0.5" d="M912 301h1v1h-1zM911 302h2v2h-2zM910 304h3v1h-3zM909 305h4v1h-4zM908 306h5v2h-5zM907 308h6v1h-6zM906 309h7v2h-7zM905 311h8v1h-8zM904 312h9v1h-9zM903 313h10v2h-10zM902 315h11v1h-11zM901 316h12v1h-12zM900 317h13v2h-13zM899 319h14v1h-14zM898 320h15v2h-15zM897 322h16v1h-16zM896 323h17v1h-17zM895 324h18v2h-18zM894 326h19v1h-19zM893 327h20v2h-20zM892 329h21v1h-21zM891 330h22v1h-22zM890 331h23v2h-23zM889 333h24v1h-24zM888 334h25v1h-25zM887 335h26v2h-26zM886 337h27v1h-27zM885 338h28v2h-28zM884 340h29v1h-29zM883 341h30v1h-30zM882 342h31v2h-31zM881 344h32v179h-32zM912 523h1v1h-1z"/>
<path fill="#0000ff" fill-opacity="0.5" d="M912 355h1v1h-1zM911 356h2v1h-2zM910 357h3v1h-3zM909 358h4v1h-4zM908 359h5v1h-5zM907 360h6v1h-6zM906 361h7v1h-7zM905 362h8v1h-8zM903 363h10v1h-10zM902 364h11v1h-11zM901 365h12v1h-12zM900 366h13v1h-13zM899 367h14v1h-14zM898 368h15v1h-15zM897 369h16v1h-16zM896 370h17v1h-17zM895 371h18v1h-18zM894 372h19v1h-19zM893 373h20v1h-20zM892 374h21v1h-21zM891 375h22v1h-22zM890 376h23v1h-23zM888 377h25v1h-25zM887 378h26v1h-26zM886 379h27v1h-27zM885 380h28v1h-28zM884 381h29v1h-29zM883 382h30v1h-30zM882 383h31v1h-31zM881 384h32v147h-32zM897 531h16v1h-16zM912 532h1v1h-1z"/>
<path fill="#ff0000" fill-opacity="0.5" d="M943 286h1v1h-1zM941 287h3v1h-3zM939 288h5v1h-5zM937 289h7v1h-7zM935 290h9v1h-9zM933 291h11v1h-11zM931 292h13v1h-13zM929 293h15v1h-15zM926 294h18v1h-18zM924 295h20v1h-20zM922 296h22v1h-22zM920 297h24v1h-24zM918 298h26v1h-26zM916 299h28v1h-28zM914 300h30v1h-30zM912 301h32v211h-32zM912 512h29v1h-29zM912 513h27v1h-27zM912 514h24v1h-24zM912 515h22v1h-22zM912 516h19v1h-19zM912 517h17v1h-17zM912 518h14v1h-14zM912 519h11v1h-11zM912 520h9v1h-9zM912 521h6v1h-6zM912 522h4v1h-4zM912 523h1v1h-1z"/>
<path fill="#0000ff" fill-opacity="0.5" d="M943 319h1v1h-1zM942 320h2v1h-2zM941 321h3v1h-3zM940 322h4v2h-4zM939 324h5v1h-5zM938 325h6v1h-6zM937 326h7v1h-7zM936 327h8v1h-8zM935 328h9v1h-9zM934 329h10v2h-10zM933 331h11v1h-11zM932 332h12v1h-12zM931 333h13v1h-13zM930 334h14v1h-14zM929 335h15v1h-15zM928 336h16v2h-16zM927 338h17v1h-17zM926 339h18v1h-18zM925 340h19v1h-19zM924 341h20v1h-20zM923 342h21v1h-21zM922 343h22v1h-22zM921 344h23v2h-23zM920 346h24v1h-24zM919 347h25v1h-25zM918 348h26v1h-26zM917 349h27v1h-27zM916 350h28v1h-28zM915 351h29v2h-29zM914 353h30v1h-30zM913 354h31v1h-31zM912 355h32v168h-32zM912 523h29v1h-29zM912 524h26v1h-26zM912 525h23v1h-23zM912 526h20v1h-20zM912 527h17v1h-17zM912 528h13v1h-13zM912 529h10v1h-10zM912 530h7v1h-7zM912 531h4v1h-4zM912 532h1v1h-1z"/>
<path fill="#ff0000" fill-opacity="0.5" d="M943 286h1v2h-1zM943 288h2v2h-2zM943 290h3v3h-3zM943 293h4v3h-4zM943 296h5v2h-5zM943 298h6v3h-6zM943 301h7v2h-7zM943 303h8v3h-8zM943 306h9v2h-9zM943 308h10v3h-10zM943 311h11v3h-11zM943 314h12v2h-12zM943 316h13v3h-13zM943 319h14v2h-14zM943 321h15v3h-15zM943 324h16v2h-16zM943 326h17v3h-17zM943 329h18v3h-18zM943 332h19v2h-19zM943 334h20v3h-20zM943 337h21v2h-21zM943 339h22v3h-22zM943 342h23v3h-23zM943 345h24v2h-24zM943 347h25v3h-25zM943 350h26v2h-26zM943 352h27v3h-27zM943 355h28v2h-28zM943 357h29v3h-29zM943 360h30v3h-30zM943 363h31v2h-31zM943 365h32v130h-32zM943 495h30v1h-30zM943 496h28v1h-28zM943 497h27v1h-27zM943 498h25v1h-25zM943 499h23v1h-23zM943 500h21v1h-21zM943 501h19v1h-19zM943 502h17v1h-17zM943 503h16v1h-16zM943 504h14v1h-14zM943 505h12v1h-12zM943 506h10v1h-10zM943 507h8v1h-8zM943 508h6v1h-6zM943 509h5v1h-5zM943 510h3v1h-3zM943 511h1v1h-1z"/>
<path fill="#0000ff" fill-opacity="0.5" d="M943 319h1v2h-1zM943 321h2v2h-2zM943 323h3v2h-3zM943 325h4v2h-4zM943 327h5v2h-5zM943 329h6v2h-6zM943 331h7v2h-7zM943 333h8v2h-8zM943 335h9v2h-9zM943 337h10v2h-10zM943 339h11v3h-11zM943 342h12v2h-12zM943 344h13v2h-13zM943 346h14v2h-14zM943 348h15v2h-15zM943 350h16v2h-16zM943 352h17v2h-17zM943 354h18v2h-18zM943 356h19v2h-19zM943 358h20v2h-20zM943 360h21v2h-21zM943 362h22v3h-22zM943 365h23v2h-23zM943 367h24v2h-24zM943 369h25v2h-25zM943 371h26v2h-26zM943 373h27v2h-27zM943 375h28v2h-28zM943 377h29v2h-29zM943 379h30v2h-30zM943 381h31v2h-31zM943 383h32v119h-32zM943 502h31v1h-31zM943 503h29v1h-29zM943 504h28v1h-28zM943 505h26v1h-26zM943 506h25v1h-25zM943 507h23v1h-23zM943 508h22v1h-22zM943 509h20v1h-20zM943 510h19v1h-19zM943 511h17v1h-17zM943 512h16v1h-16zM943 513h14v1h-14zM943 514h13v1h-13zM943 515h11v1h-11zM943 516h10v1h-10zM943 517h8v1h-8zM943 518h7v1h-7zM943 519h5v1h-5zM943 520h4v1h-4zM943 521h2v1h-2zM943 522h1v1h-1z"/>
</g>
<g style="will-change:transform" text-rendering="geometricPrecision">
<text transform="translate(513.80,45.90) scale(1,1.045)" font-size="29.80" text-anchor="middle" fill="#000" stroke="#000" stroke-width="0.45">Température de mars 2017</text>
<text transform="translate(976.20,27.80) scale(1,1.080)" font-size="14.67" text-anchor="end" fill="#ff0000" letter-spacing="0.13">Piste (min - max)</text>
<text transform="translate(974.00,49.50) scale(1,1.080)" font-size="14.67" text-anchor="end" fill="#0000ff">Air (min - max)</text>
<g>
<text transform="translate(45.75,71.90) scale(1,1.080)" font-size="14.67" text-anchor="end" fill="#000">60°C</text><text transform="translate(45.75,114.90) scale(1,1.080)" font-size="14.67" text-anchor="end" fill="#000">55°C</text><text transform="translate(45.75,156.90) scale(1,1.080)" font-size="14.67" text-anchor="end" fill="#000">50°C</text><text transform="translate(44.75,199.90) scale(1,1.080)" font-size="14.67" text-anchor="end" fill="#000">45°C</text><text transform="translate(44.75,242.90) scale(1,1.080)" font-size="14.67" text-anchor="end" fill="#000">40°C</text><text transform="translate(45.75,285.90) scale(1,1.080)" font-size="14.67" text-anchor="end" fill="#000">35°C</text><text transform="translate(45.75,328.90) scale(1,1.080)" font-size="14.67" text-anchor="end" fill="#000">30°C</text><text transform="translate(44.75,371.90) scale(1,1.080)" font-size="14.67" text-anchor="end" fill="#000">25°C</text><text transform="translate(44.75,414.90) scale(1,1.080)" font-size="14.67" text-anchor="end" fill="#000">20°C</text><text transform="translate(46.75,456.90) scale(1,1.080)" font-size="14.67" text-anchor="end" fill="#000">15°C</text><text transform="translate(46.75,499.90) scale(1,1.080)" font-size="14.67" text-anchor="end" fill="#000">10°C</text><text transform="translate(45.75,542.90) scale(1,1.080)" font-size="14.67" text-anchor="end" fill="#000">5°C</text><text transform="translate(45.75,585.90) scale(1,1.080)" font-size="14.67" text-anchor="end" fill="#000">0°C</text><text transform="translate(44.75,628.90) scale(1,1.080)" font-size="14.67" text-anchor="end" fill="#000">-5°C</text><text transform="translate(44.60,671.90) scale(1,1.080)" font-size="14.67" text-anchor="end" fill="#000">-10°C</text>
</g>
<g>
<text transform="translate(53.10,689.00) scale(1,1.080)" font-size="14.67" text-anchor="middle" fill="#000">1</text><text transform="translate(80.70,689.00) scale(1,1.080)" font-size="14.67" text-anchor="middle" fill="#000">2</text><text transform="translate(111.70,689.00) scale(1,1.080)" font-size="14.67" text-anchor="middle" fill="#000">3</text><text transform="translate(141.80,689.00) scale(1,1.080)" font-size="14.67" text-anchor="middle" fill="#000">4</text><text transform="translate(173.70,689.00) scale(1,1.080)" font-size="14.67" text-anchor="middle" fill="#000">5</text><text transform="translate(203.70,689.00) scale(1,1.080)" font-size="14.67" text-anchor="middle" fill="#000">6</text><text transform="translate(234.70,689.00) scale(1,1.080)" font-size="14.67" text-anchor="middle" fill="#000">7</text><text transform="translate(265.70,689.00) scale(1,1.080)" font-size="14.67" text-anchor="middle" fill="#000">8</text><text transform="translate(296.70,689.00) scale(1,1.080)" font-size="14.67" text-anchor="middle" fill="#000">9</text><text transform="translate(327.70,689.00) scale(1,1.080)" font-size="14.67" text-anchor="middle" fill="#000">10</text><text transform="translate(357.70,689.00) scale(1,1.080)" font-size="14.67" text-anchor="middle" fill="#000">11</text><text transform="translate(389.10,689.00) scale(1,1.080)" font-size="14.67" text-anchor="middle" fill="#000">12</text><text transform="translate(420.30,689.00) scale(1,1.080)" font-size="14.67" text-anchor="middle" fill="#000">13</text><text transform="translate(450.30,689.00) scale(1,1.080)" font-size="14.67" text-anchor="middle" fill="#000">14</text><text transform="translate(481.30,689.00) scale(1,1.080)" font-size="14.67" text-anchor="middle" fill="#000">15</text><text transform="translate(512.30,689.00) scale(1,1.080)" font-size="14.67" text-anchor="middle" fill="#000">16</text><text transform="translate(543.30,689.00) scale(1,1.080)" font-size="14.67" text-anchor="middle" fill="#000">17</text><text transform="translate(574.10,689.00) scale(1,1.080)" font-size="14.67" text-anchor="middle" fill="#000">18</text><text transform="translate(604.70,689.00) scale(1,1.080)" font-size="14.67" text-anchor="middle" fill="#000">19</text><text transform="translate(635.10,689.00) scale(1,1.080)" font-size="14.67" text-anchor="middle" fill="#000">20</text><text transform="translate(666.20,689.00) scale(1,1.080)" font-size="14.67" text-anchor="middle" fill="#000">21</text><text transform="translate(696.70,689.00) scale(1,1.080)" font-size="14.67" text-anchor="middle" fill="#000">22</text><text transform="translate(727.70,689.00) scale(1,1.080)" font-size="14.67" text-anchor="middle" fill="#000">23</text><text transform="translate(758.70,689.00) scale(1,1.080)" font-size="14.67" text-anchor="middle" fill="#000">24</text><text transform="translate(789.40,689.00) scale(1,1.080)" font-size="14.67" text-anchor="middle" fill="#000">25</text><text transform="translate(820.70,689.00) scale(1,1.080)" font-size="14.67" text-anchor="middle" fill="#000">26</text><text transform="translate(850.70,689.00) scale(1,1.080)" font-size="14.67" text-anchor="middle" fill="#000">27</text><text transform="translate(881.70,689.00) scale(1,1.080)" font-size="14.67" text-anchor="middle" fill="#000">28</text><text transform="translate(912.70,689.00) scale(1,1.080)" font-size="14.67" text-anchor="middle" fill="#000">29</text><text transform="translate(943.40,689.00) scale(1,1.080)" font-size="14.67" text-anchor="middle" fill="#000">30</text><text transform="translate(975.30,689.00) scale(1,1.080)" font-size="14.67" text-anchor="middle" fill="#000">31</text>
</g>
</g>
</svg>
</body></html>
